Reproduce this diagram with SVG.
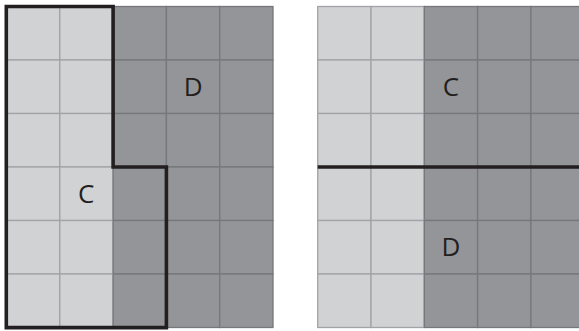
<svg xmlns="http://www.w3.org/2000/svg" width="579" height="331" viewBox="0 0 579 331">
<style>
.l{fill:#d1d2d4;stroke:#a2a3a6;stroke-width:1.3}
.d{fill:#939598;stroke:#76777a;stroke-width:1.3}
.b{fill:none;stroke:#231f20;stroke-width:3.6;stroke-linejoin:miter}
.t{font-family:"Open Sans","Liberation Sans",sans-serif;font-size:26px;fill:#231f20;text-anchor:middle}
</style>
<defs>
<g id="grid">
<rect class="l" x="0" y="0" width="53.3" height="53.5"/><rect class="l" x="53.3" y="0" width="53.3" height="53.5"/><rect class="d" x="106.6" y="0" width="53.3" height="53.5"/><rect class="d" x="159.9" y="0" width="53.3" height="53.5"/><rect class="d" x="213.2" y="0" width="53.3" height="53.5"/>
<rect class="l" x="0" y="53.5" width="53.3" height="53.5"/><rect class="l" x="53.3" y="53.5" width="53.3" height="53.5"/><rect class="d" x="106.6" y="53.5" width="53.3" height="53.5"/><rect class="d" x="159.9" y="53.5" width="53.3" height="53.5"/><rect class="d" x="213.2" y="53.5" width="53.3" height="53.5"/>
<rect class="l" x="0" y="107" width="53.3" height="53.5"/><rect class="l" x="53.3" y="107" width="53.3" height="53.5"/><rect class="d" x="106.6" y="107" width="53.3" height="53.5"/><rect class="d" x="159.9" y="107" width="53.3" height="53.5"/><rect class="d" x="213.2" y="107" width="53.3" height="53.5"/>
<rect class="l" x="0" y="160.5" width="53.3" height="53.5"/><rect class="l" x="53.3" y="160.5" width="53.3" height="53.5"/><rect class="d" x="106.6" y="160.5" width="53.3" height="53.5"/><rect class="d" x="159.9" y="160.5" width="53.3" height="53.5"/><rect class="d" x="213.2" y="160.5" width="53.3" height="53.5"/>
<rect class="l" x="0" y="214" width="53.3" height="53.5"/><rect class="l" x="53.3" y="214" width="53.3" height="53.5"/><rect class="d" x="106.6" y="214" width="53.3" height="53.5"/><rect class="d" x="159.9" y="214" width="53.3" height="53.5"/><rect class="d" x="213.2" y="214" width="53.3" height="53.5"/>
<rect class="l" x="0" y="267.5" width="53.3" height="53.5"/><rect class="l" x="53.3" y="267.5" width="53.3" height="53.5"/><rect class="d" x="106.6" y="267.5" width="53.3" height="53.5"/><rect class="d" x="159.9" y="267.5" width="53.3" height="53.5"/><rect class="d" x="213.2" y="267.5" width="53.3" height="53.5"/>
</g>
</defs>
<g id="left-grid">
<use href="#grid" x="6.5" y="6.5"/>
</g>
<g id="right-grid">
<use href="#grid" x="317.7" y="6.5"/>
</g>
<g id="connectors">
<path class="b" d="M6.3,6.5 H113.1 V167 H166.4 V327.6 H6.3 Z"/>
<path class="b" d="M317.7,167 H579"/>
</g>
<g id="left-D"><text class="t" x="193.1" y="96">D</text></g>
<g id="left-C"><text class="t" x="86.2" y="202.5">C</text></g>
<g id="right-C"><text class="t" x="451" y="96">C</text></g>
<g id="right-D"><text class="t" x="451" y="256">D</text></g>
</svg>
